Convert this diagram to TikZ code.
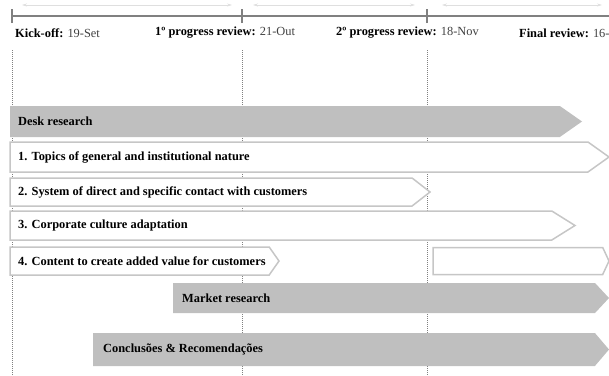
\documentclass[tikz,border=0pt]{standalone}
\usepackage{fontspec}
\setmainfont{Liberation Serif}
\usetikzlibrary{shapes.symbols,arrows.meta}

\newcommand{\chartfont}{\fontsize{12.4}{14}\selectfont}

\tikzset{
  phase/.style={signal, signal to=east, signal from=nowhere, anchor=west,
    inner sep=0pt, outer sep=0pt},
  grayarrow/.style={phase, fill=gray!50, draw=none},
  whitearrow/.style={phase, fill=white, draw=gray!45, line width=1.5pt},
  bartext/.style={anchor=west, inner sep=8pt, font=\chartfont\bfseries},
  milestone/.style={anchor=west, inner sep=0pt},
  guide/.style={gray, line width=0.5pt, dash pattern=on 1pt off 1pt},
  span/.style={gray!25, line width=0.6pt, {Stealth[length=5pt,width=3pt]}-{Stealth[length=5pt,width=3pt]}}
}

\begin{document}
\begin{tikzpicture}[x=1pt, y=-1pt, font=\chartfont]
      \useasboundingbox (0,0) rectangle (609,375);

      % time line
      \coordinate (k0) at (12,16);
      \coordinate (k1) at (242,16);
      \coordinate (k2) at (427,16);
      \coordinate (kend) at (609,16);

      % guides
      \foreach \k in {k0,k1,k2}
        \draw[guide] ([yshift=-34pt]\k) -- ([yshift=-359pt]\k);

      \draw[gray, line width=2.2pt] (k0) -- (kend);
      \foreach \k in {k0,k1,k2}
        \draw[gray, line width=2.2pt] ([yshift=-7pt]\k) -- ([yshift=7pt]\k);

      \coordinate (s0a) at (22,5);   \coordinate (s0b) at (232,5);
      \coordinate (s1a) at (253,5);  \coordinate (s1b) at (415,5);
      \coordinate (s2a) at (442,5);  \coordinate (s2b) at (602,5);
      \draw[span] (s0a) -- (s0b);
      \draw[span] (s1a) -- (s1b);
      \draw[span] (s2a) -- (s2b);

      \node[milestone] (m0) at (15,33)  {\textbf{Kick-off:} \textcolor{black!75}{19-Set}};
      \node[milestone] (m1) at (155,33) {\textbf{1º progress review:} \textcolor{black!75}{21-Out}};
      \node[milestone] (m2) at (336,33) {\textbf{2º progress review:} \textcolor{black!75}{18-Nov}};
      \node[milestone] (m3) at (519,33) {\textbf{Final review:} \textcolor{black!75}{16-}};

      % phases
      \node[grayarrow, minimum width=572pt, minimum height=31pt, signal pointer angle=70,
        label={[bartext]west:Desk research}] (0) at (10,121.5) {};
      \node[whitearrow, minimum width=599pt, minimum height=30pt, signal pointer angle=71,
        label={[bartext]west:1. Topics of general and institutional nature}] (1) at (10,157) {};
      \node[whitearrow, minimum width=420pt, minimum height=28pt, signal pointer angle=76,
        label={[bartext]west:2. System of direct and specific contact with customers}] (2) at (10,192) {};
      \node[whitearrow, minimum width=565pt, minimum height=29pt, signal pointer angle=64,
        label={[bartext]west:3. Corporate culture adaptation}] (3) at (10,225.5) {};
      \node[whitearrow, minimum width=269pt, minimum height=28pt, signal pointer angle=110,
        label={[bartext]west:4. Content to create added value for customers}] (4) at (10,261) {};
      \node[whitearrow, minimum width=176pt, minimum height=27pt, signal pointer angle=130] (5) at (433,261) {};
      \node[grayarrow, minimum width=436pt, minimum height=30pt, signal pointer angle=94,
        label={[bartext, inner sep=9pt]west:Market research}] (6) at (173,298) {};
      \node[grayarrow, minimum width=516pt, minimum height=33pt, signal pointer angle=99,
        label={[bartext, inner sep=10pt]west:Conclusões \& Recomendações}] (7) at (93,349.5) {};
\end{tikzpicture}
\end{document}
